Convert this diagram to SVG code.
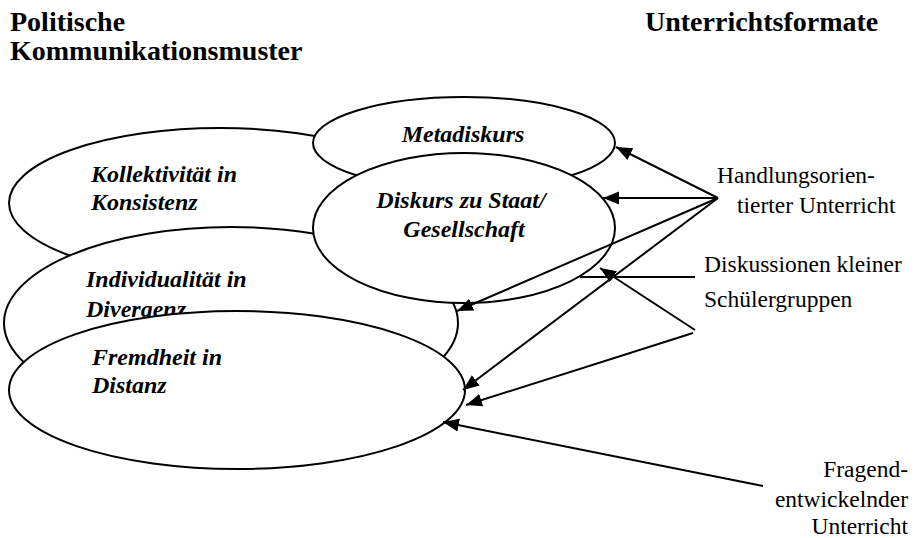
<svg xmlns="http://www.w3.org/2000/svg" width="921" height="538" viewBox="0 0 921 538">
<style>
.e{fill:#fff;stroke:#000;stroke-width:2}
.n{font-family:"Liberation Serif","Times New Roman",serif;font-size:24px;font-weight:bold;font-style:italic;fill:#000}
.h{font-family:"Liberation Serif","Times New Roman",serif;font-size:28px;font-weight:bold;fill:#000}
.l{font-family:"Liberation Serif","Times New Roman",serif;font-size:23.5px;fill:#000}
.c{stroke:#000;stroke-width:2;fill:none}
</style>
<defs>
<marker id="ah" markerUnits="userSpaceOnUse" markerWidth="18" markerHeight="14" refX="16" refY="6.5" orient="auto">
<path d="M0,0 L16,6.5 L0,13 z" fill="#000"/>
</marker>
</defs>
<rect width="921" height="538" fill="#fff"/>
<g id="headers">
<text class="h" x="10" y="31">Politische</text>
<text class="h" x="10" y="60">Kommunikationsmuster</text>
<text class="h" x="645" y="31">Unterrichtsformate</text>
</g>
<g id="kollektivitaet">
<ellipse class="e" cx="220" cy="203" rx="211" ry="75"/>
<text class="n" x="91" y="182">Kollektivität in</text>
<text class="n" x="91" y="210">Konsistenz</text>
</g>
<g id="individualitaet">
<ellipse class="e" cx="231" cy="323" rx="227" ry="96"/>
<text class="n" x="86" y="287">Individualität in</text>
<text class="n" x="86" y="317">Divergenz</text>
</g>
<g id="fremdheit">
<ellipse class="e" cx="237" cy="390" rx="228" ry="79"/>
<text class="n" x="92" y="365">Fremdheit in</text>
<text class="n" x="92" y="393">Distanz</text>
</g>
<g id="metadiskurs">
<ellipse class="e" cx="464" cy="143" rx="151" ry="46"/>
<text class="n" x="463" y="142" text-anchor="middle">Metadiskurs</text>
</g>
<g id="diskurs">
<ellipse class="e" cx="464" cy="228" rx="151" ry="75"/>
<text class="n" x="461" y="208" text-anchor="middle">Diskurs zu Staat/</text>
<text class="n" x="464" y="237" text-anchor="middle">Gesellschaft</text>
</g>
<g id="connectors">
<path class="c" d="M718,198 L616,147" marker-end="url(#ah)"/>
<path class="c" d="M718,198 L603,198" marker-end="url(#ah)"/>
<path class="c" d="M718,198 L457,311" marker-end="url(#ah)"/>
<path class="c" d="M718,198 L463,390" marker-end="url(#ah)"/>
<path class="c" d="M695,277 L580,277"/>
<path class="c" d="M695,330 L600,268" marker-end="url(#ah)"/>
<path class="c" d="M693,333 L466,405" marker-end="url(#ah)"/>
<path class="c" d="M763,486 L443,422" marker-end="url(#ah)"/>
</g>
<g id="labels">
<text class="l" x="717" y="183">Handlungsorien-</text>
<text class="l" x="737" y="213">tierter Unterricht</text>
<text class="l" x="704" y="272">Diskussionen kleiner</text>
<text class="l" x="704" y="307">Schülergruppen</text>
<text class="l" x="908" y="477" text-anchor="end">Fragend-</text>
<text class="l" x="908" y="507" text-anchor="end">entwickelnder</text>
<text class="l" x="908" y="534" text-anchor="end">Unterricht</text>
</g>
</svg>
